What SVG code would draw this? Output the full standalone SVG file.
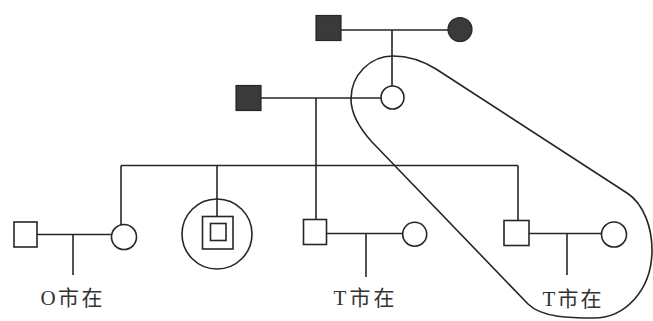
<svg xmlns="http://www.w3.org/2000/svg" width="653" height="321" viewBox="0 0 653 321">
<style>
.ln{stroke:#262626;stroke-width:1.6;fill:none}
.sym{stroke:#262626;stroke-width:1.6;fill:#fff}
.aff{stroke:#262626;stroke-width:1.2;fill:#3a3a3a}
.lbl{font-family:"Liberation Serif","Noto Sans CJK SC",serif;font-size:21px;fill:#333;text-anchor:middle}
</style>
<rect width="653" height="321" fill="#fff"/>
<g id="connectors">
<line class="ln" x1="341" y1="30" x2="448" y2="30"/>
<line class="ln" x1="392" y1="30" x2="392" y2="86"/>
<line class="ln" x1="261" y1="98" x2="381" y2="98"/>
<line class="ln" x1="316" y1="98" x2="316" y2="219"/>
<line class="ln" x1="121" y1="165.5" x2="518" y2="165.5"/>
<line class="ln" x1="121" y1="165.5" x2="121" y2="225"/>
<line class="ln" x1="217" y1="165.5" x2="217" y2="216.5"/>
<line class="ln" x1="518" y1="165.5" x2="518" y2="220"/>
<line class="ln" x1="37" y1="234.5" x2="111.5" y2="234.5"/>
<line class="ln" x1="73" y1="234.5" x2="73" y2="275"/>
<line class="ln" x1="327" y1="233.5" x2="402.5" y2="233.5"/>
<line class="ln" x1="366" y1="233.5" x2="366" y2="277"/>
<line class="ln" x1="529" y1="233.5" x2="601.5" y2="233.5"/>
<line class="ln" x1="567" y1="233.5" x2="567" y2="275"/>
</g>
<g id="lasso">
<path class="ln" d="M393 56 C408 56,423 61,436 69 L627 193 C644 204,652 228,652 250 C652 290,625 318,594 318 C572 318,542 318,528 304 L372 142 C362 131,351 115,351 99 C351 75,370 56,393 56 Z"/>
</g>
<g id="grandfather"><rect class="aff" x="316" y="15.5" width="25" height="25"/></g>
<g id="grandmother"><circle class="aff" cx="460" cy="29.5" r="12"/></g>
<g id="father"><rect class="aff" x="236" y="85.5" width="25" height="25"/></g>
<g id="mother"><circle class="sym" cx="392.5" cy="97.5" r="11.5"/></g>
<g id="sister-husband"><rect class="sym" x="14" y="222" width="23" height="25"/></g>
<g id="sister"><circle class="sym" cx="124" cy="237" r="12.5"/></g>
<g id="proband">
<circle class="ln" cx="217" cy="234" r="35"/>
<rect class="sym" x="202.5" y="216.5" width="30.5" height="32.5"/>
<rect class="sym" x="210.5" y="223.5" width="15.5" height="17"/>
</g>
<g id="brother1"><rect class="sym" x="303.5" y="219.5" width="23" height="25"/></g>
<g id="brother1-wife"><circle class="sym" cx="414.7" cy="234.2" r="12"/></g>
<g id="brother2"><rect class="sym" x="504" y="220.5" width="25" height="25"/></g>
<g id="brother2-wife"><circle class="sym" cx="614" cy="234.5" r="12.5"/></g>
<g id="labels">
<text class="lbl" x="71.5" y="305" textLength="62" lengthAdjust="spacing">O市在</text>
<text class="lbl" x="364" y="305" textLength="61" lengthAdjust="spacing">T市在</text>
<text class="lbl" x="572" y="306" textLength="59" lengthAdjust="spacing">T市在</text>
</g>
</svg>
